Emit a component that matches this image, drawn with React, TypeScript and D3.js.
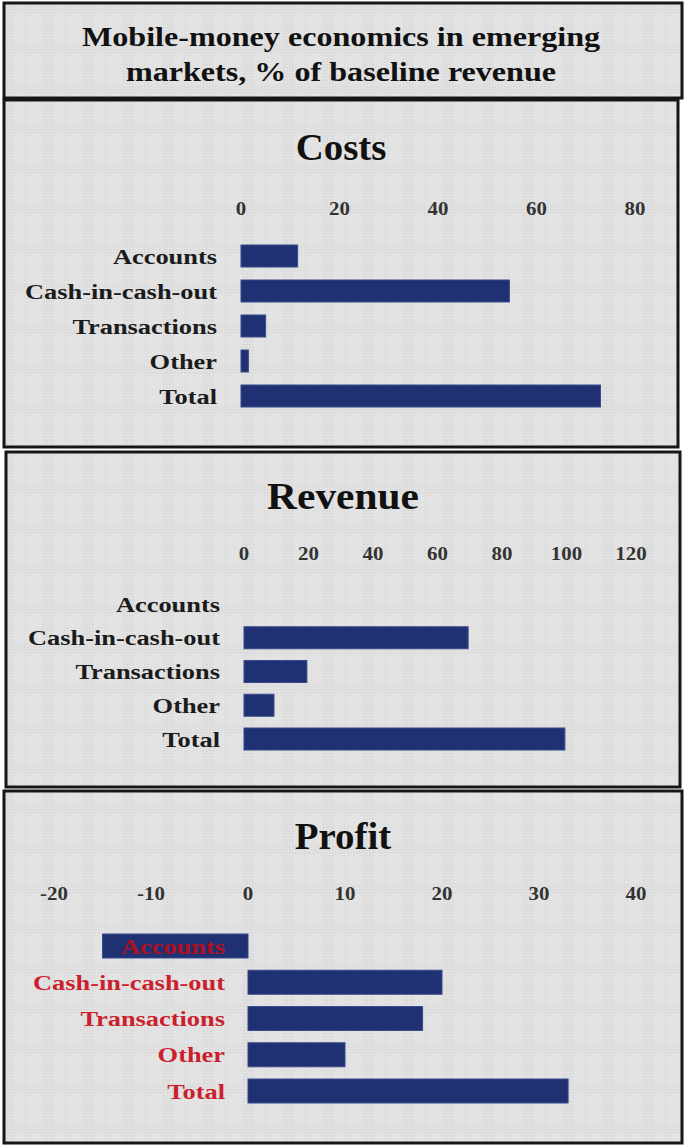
import { useEffect } from "react"
import * as d3 from "d3"

const categories = ["Accounts", "Cash-in-cash-out", "Transactions", "Other", "Total"]

const costValues = [11.5, 54.5, 5, 1.5, 73]
const costTicks = [0, 20, 40, 60, 80]

const revenueValues = [0, 69.5, 19.5, 9.3, 99.5]
const revenueTicks = [0, 20, 40, 60, 80, 100, 120]

const profitValues = [-15, 20, 18, 10, 33]
const profitTicks = [-20, -10, 0, 10, 20, 30, 40]

const titleLines = ["Mobile-money economics in emerging", "markets, % of baseline revenue"]

const W = 685
const H = 1146
const FONT = "'Liberation Serif', 'DejaVu Serif', serif"
const BAR = "#1f3172"
const TEXT = "#1b1b1b"
const RED = "#cc1f2d"

// the source font (a Garamond) is wider than Liberation Serif, so text is stretched a bit
const stretch = (x: number, y: number, s: number) => `translate(${x},${y}) scale(${s},1)`

type PanelProps = {
    title: string
    titleScale: number
    values: number[]
    ticks: number[]
    box: { x: number; y: number; w: number; h: number }
    xRange: [number, number]
    titleY: number
    tickY: number
    rows: [number, number]
    barH: number
    labelX: number
    labelColor: string
}

function Panel({ title, titleScale, values, ticks, box, xRange, titleY, tickY, rows, barH, labelX, labelColor }: PanelProps) {
    const x = d3
        .scaleLinear()
        .domain([ticks[0], ticks[ticks.length - 1]])
        .range(xRange)

    const step = (rows[1] - rows[0]) / (categories.length - 1)
    const pad = 1 - barH / step
    const y = d3
        .scaleBand()
        .domain(categories)
        .range([rows[0] - step / 2, rows[1] + step / 2])
        .paddingInner(pad)
        .paddingOuter(pad / 2)

    return (
        <g>
            <rect x={box.x} y={box.y} width={box.w} height={box.h} fill="url(#plaid)" stroke="#161616" strokeWidth={3} />
            <text
                transform={stretch(box.x + box.w / 2, titleY, titleScale)}
                textAnchor="middle"
                dominantBaseline="central"
                fontSize={37}
                fontWeight="bold"
                fill="#111"
            >
                {title}
            </text>
            {ticks.map((t) => (
                <text
                    key={t}
                    transform={stretch(x(t), tickY, 1.1)}
                    textAnchor="middle"
                    dominantBaseline="central"
                    fontSize={19}
                    fontWeight="bold"
                    fill="#333"
                >
                    {t}
                </text>
            ))}
            {categories.map((c, i) => {
                const v = values[i]
                if (!v) return null
                const x0 = x(Math.min(0, v))
                const x1 = x(Math.max(0, v))
                return (
                    <rect
                        key={c}
                        x={x0}
                        y={y(c)}
                        width={x1 - x0}
                        height={y.bandwidth()}
                        fill={BAR}
                        stroke="#3a4b8c"
                        strokeWidth={1}
                    />
                )
            })}
            {categories.map((c, i) => (
                <text
                    key={c}
                    transform={stretch(labelX, (y(c) ?? 0) + y.bandwidth() / 2, 1.2)}
                    textAnchor="end"
                    dominantBaseline="central"
                    fontSize={22}
                    fontWeight="bold"
                    fill={values[i] < 0 && labelColor !== TEXT ? "#b0101f" : labelColor}
                >
                    {c}
                </text>
            ))}
        </g>
    )
}

export default function App() {
    useEffect(() => {
        document.body.style.margin = "0"
        document.body.style.background = "#fff"
    }, [])

    return (
        <svg width={W} height={H} viewBox={`0 0 ${W} ${H}`} style={{ display: "block", fontFamily: FONT }}>
            <defs>
                <pattern id="dots" width={3} height={3} patternUnits="userSpaceOnUse">
                    <rect width={3} height={3} fill="#e2e2e2" />
                    <rect width={1.5} height={1.5} fill="#d2d2d2" />
                </pattern>
                <pattern id="plaid" width={40} height={40} patternUnits="userSpaceOnUse">
                    <rect width={40} height={40} fill="#e3e3e3" />
                    <rect x={2} width={12} height={40} fill="url(#dots)" opacity={0.8} />
                    <rect x={24} width={6} height={40} fill="url(#dots)" opacity={0.5} />
                    <rect y={4} width={40} height={10} fill="url(#dots)" opacity={0.7} />
                    <rect y={26} width={40} height={5} fill="url(#dots)" opacity={0.4} />
                </pattern>
            </defs>
            <rect width={W} height={H} fill="#fff" />

            <rect x={4} y={3} width={678} height={95} fill="url(#plaid)" stroke="#161616" strokeWidth={3} />
            {titleLines.map((t, i) => (
                <text
                    key={t}
                    transform={stretch(341, 37 + i * 35, 1.19)}
                    textAnchor="middle"
                    dominantBaseline="central"
                    fontSize={27}
                    fontWeight="bold"
                    fill="#111"
                >
                    {t}
                </text>
            ))}

            <Panel
                title="Costs"
                titleScale={1.05}
                values={costValues}
                ticks={costTicks}
                box={{ x: 4, y: 100, w: 674, h: 347 }}
                xRange={[241, 635]}
                titleY={147}
                tickY={208}
                rows={[256, 396]}
                barH={22}
                labelX={217}
                labelColor={TEXT}
            />
            <Panel
                title="Revenue"
                titleScale={1.12}
                values={revenueValues}
                ticks={revenueTicks}
                box={{ x: 6, y: 452, w: 674, h: 335 }}
                xRange={[244, 631]}
                titleY={496}
                tickY={553}
                rows={[604, 739]}
                barH={22}
                labelX={220}
                labelColor={TEXT}
            />
            <Panel
                title="Profit"
                titleScale={1.05}
                values={profitValues}
                ticks={profitTicks}
                box={{ x: 4, y: 791, w: 678, h: 352 }}
                xRange={[54, 636]}
                titleY={836}
                tickY={893}
                rows={[946, 1091]}
                barH={24}
                labelX={225}
                labelColor={RED}
            />
        </svg>
    )
}
